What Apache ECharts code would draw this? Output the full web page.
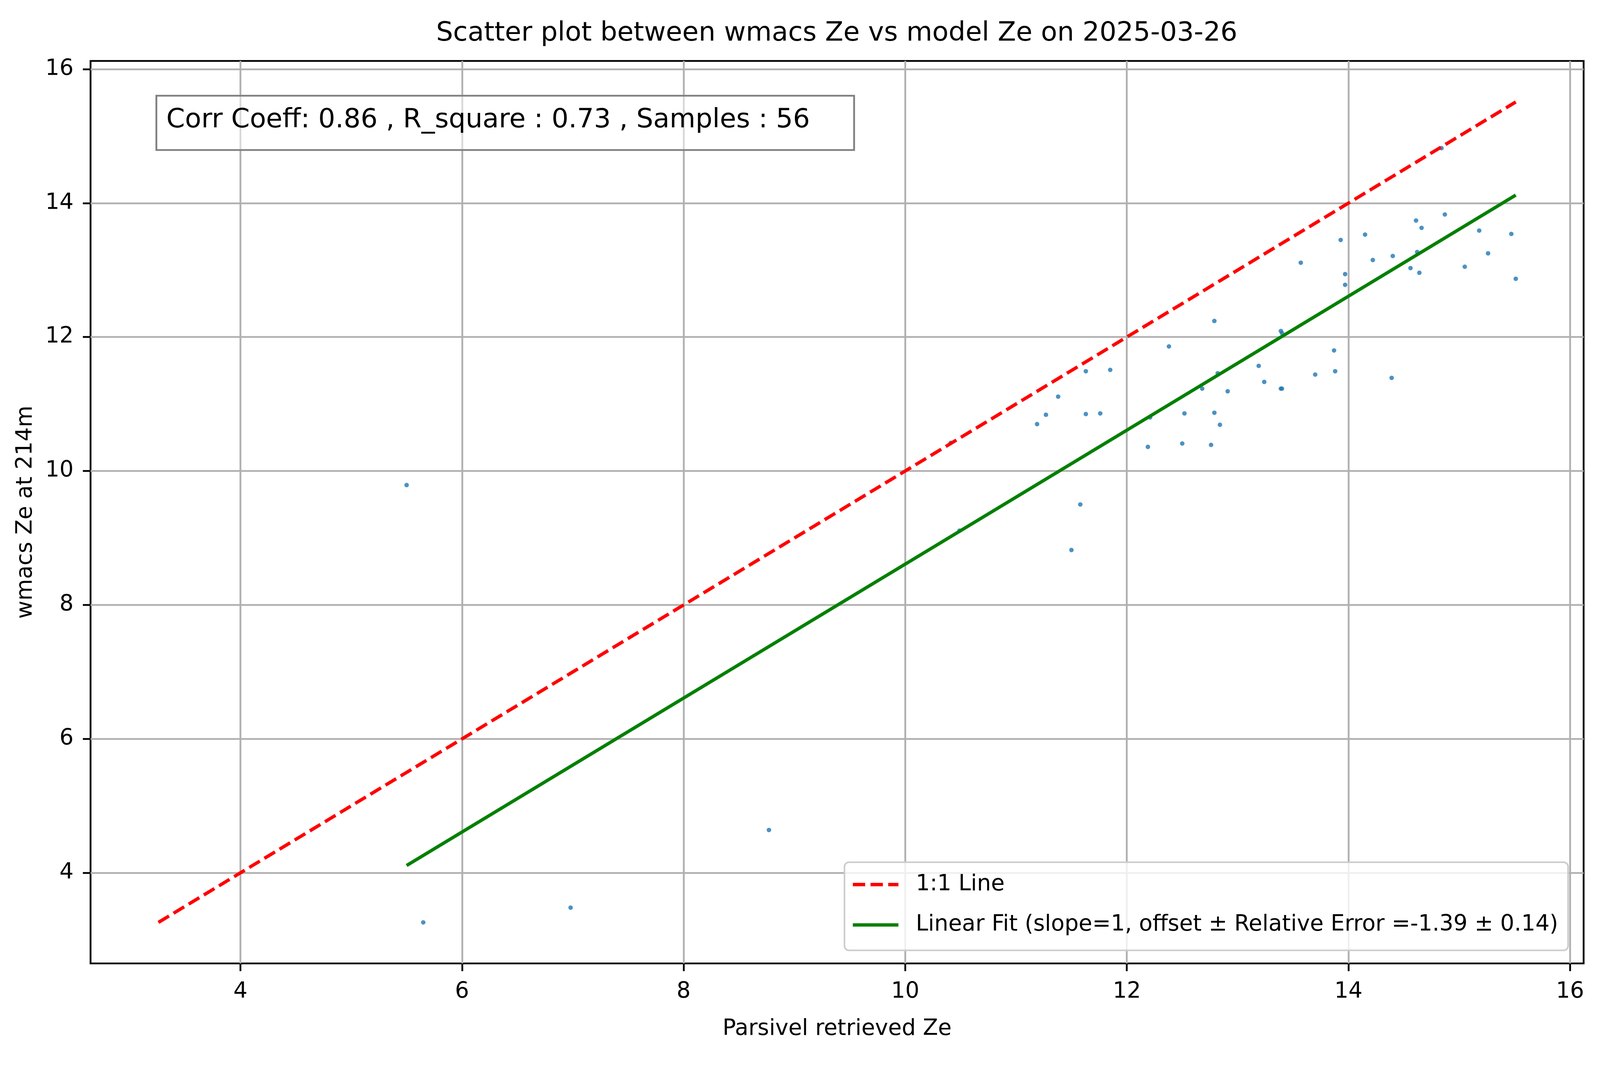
<!DOCTYPE html>
<html>
<head>
    <meta charset="utf-8">
    <title>wmacs Ze vs model Ze</title>
    <style>
        html, body { margin: 0; padding: 0; background: #fff; overflow: hidden; }
        #main { width: 100vw; height: 100vh; }
    </style>
</head>
<body>
<div id="main"></div>
<script src="https://cdn.jsdelivr.net/npm/echarts@6/dist/echarts.min.js"></script>
<script type="text/javascript">
    // Parsivel retrieved Ze (x) and wmacs Ze at 214m (y)
    var parsivelZe = [
        11.19, 11.27, 11.38, 11.63, 11.63, 11.76, 11.85, 11.58, 11.50, 12.21,
        12.19, 12.38, 12.52, 12.50, 12.68, 12.79, 12.79, 12.76, 12.84, 12.82,
        12.91, 13.19, 13.24, 13.39, 13.40, 13.39, 13.40, 13.57, 13.70, 13.87,
        13.88, 13.93, 13.97, 13.97, 14.15, 14.22, 14.39, 14.40, 14.56, 14.61,
        14.62, 14.64, 14.66, 14.87, 15.05, 15.18, 15.26, 15.47, 15.51, 14.84,
        10.41, 10.49, 5.50, 5.65, 6.98, 8.77
    ];
    var wmacsZe = [
        10.70, 10.84, 11.11, 11.49, 10.85, 10.86, 11.51, 9.50, 8.82, 10.80,
        10.36, 11.86, 10.86, 10.41, 11.23, 12.24, 10.87, 10.39, 10.69, 11.46,
        11.19, 11.57, 11.33, 12.09, 12.06, 11.23, 11.23, 13.11, 11.44, 11.80,
        11.49, 13.45, 12.94, 12.78, 13.53, 13.15, 11.39, 13.21, 13.03, 13.74,
        13.27, 12.96, 13.63, 13.83, 13.05, 13.59, 13.25, 13.54, 12.87, 14.82,
        10.42, 9.11, 9.79, 3.26, 3.48, 4.64
    ];

    // end points of the two reference lines
    var oneToOneX = [3.26, 15.51];
    var oneToOneY = [3.26, 15.51];
    var fitX = [5.50, 15.51];
    var fitY = [4.11, 14.12];

    var tickValues = [4, 6, 8, 10, 12, 14, 16];

    var titleText = 'Scatter plot between wmacs Ze vs model Ze on 2025-03-26';
    var statsText = 'Corr Coeff: 0.86 , R_square : 0.73 , Samples : 56';
    var lineName = '1:1 Line';
    var fitName = 'Linear Fit (slope=1, offset \u00b1 Relative Error =-1.39 \u00b1 0.14)';

    function pairs(xs, ys) {
        var out = [];
        for (var i = 0; i < xs.length; i++) out.push([xs[i], ys[i]]);
        return out;
    }

    // layout was measured on a 4983 x 2726 picture; scale it to the real window
    var dom = document.getElementById('main');
    var W = dom.clientWidth, H = dom.clientHeight;
    var sx = W / 4983, sy = H / 2726, s = Math.min(sx, sy);
    function X(v) { return v * sx; }
    function Y(v) { return v * sy; }
    function S(v) { return v * s; }

    var FONT = 'DejaVu Sans';
    var legendFont = S(69);

    function valueAxis(name, nameGap, labelMargin) {
        return {
            type: 'value',
            min: 2.6475,
            max: 16.1225,
            name: name,
            nameLocation: 'middle',
            nameGap: nameGap,
            nameTextStyle: { fontFamily: FONT, fontSize: S(69), color: '#000' },
            axisLine: { show: false },
            axisTick: {
                show: true,
                inside: false,
                length: S(24),
                customValues: tickValues,
                lineStyle: { color: '#000', width: S(5.6) }
            },
            axisLabel: {
                customValues: tickValues,
                margin: labelMargin,
                fontFamily: FONT,
                fontSize: S(69),
                color: '#000'
            },
            splitLine: {
                show: true,
                lineStyle: { color: '#b0b0b0', width: S(5.6) }
            }
        };
    }

    var myChart = echarts.init(dom);
    myChart.setOption({
        animation: false,
        backgroundColor: '#fff',
        grid: {
            left: X(282), top: Y(156), right: X(51), bottom: Y(260),
            show: true,
            borderColor: '#000',
            borderWidth: S(5.6),
            backgroundColor: 'transparent'
        },
        xAxis: valueAxis('Parsivel retrieved Ze', Y(140), Y(45)),
        yAxis: valueAxis('wmacs Ze at 214m', X(167), X(53)),
        legend: {
            data: [
                {
                    name: lineName,
                    icon: 'path://M0,0H38.5V10.4H0Z M55.1,0H93.6V10.4H55.1Z M110.2,0H142V10.4H110.2Z'
                },
                { name: fitName, icon: 'path://M0,0H142V10.4H0Z' }
            ],
            orient: 'vertical',
            left: X(2630),
            top: Y(2207),
            itemWidth: S(142),
            itemHeight: S(10.4),
            itemGap: Y(103) - legendFont,
            padding: [
                Y(2264 - 2207) - legendFont / 2,
                X(31),
                Y(2432 - 2367) - legendFont / 2,
                X(26)
            ],
            backgroundColor: 'rgba(255,255,255,0.8)',
            borderColor: '#cccccc',
            borderWidth: S(5),
            borderRadius: S(14),
            textStyle: {
                fontFamily: FONT,
                fontSize: legendFont,
                color: '#000',
                padding: [0, 0, 0, X(48)]
            }
        },
        graphic: [
            {
                type: 'text',
                x: X(2606),
                y: Y(86),
                style: {
                    text: titleText,
                    fontFamily: FONT,
                    fontSize: S(83),
                    fill: '#000',
                    align: 'center',
                    verticalAlign: 'middle'
                }
            },
            {
                type: 'rect',
                shape: { x: X(487), y: Y(245), width: X(2173), height: Y(139) },
                style: { fill: 'rgba(255,255,255,0.5)', stroke: '#808080', lineWidth: S(5.6) },
                z: 10
            },
            {
                type: 'text',
                x: X(518),
                y: Y(308),
                z: 11,
                style: {
                    text: statsText,
                    fontFamily: FONT,
                    fontSize: S(83),
                    fill: '#000',
                    align: 'left',
                    verticalAlign: 'middle'
                }
            }
        ],
        series: [
            {
                name: 'data',
                type: 'scatter',
                symbol: 'circle',
                symbolSize: S(14),
                itemStyle: { color: '#1f77b4' },
                data: pairs(parsivelZe, wmacsZe)
            },
            {
                name: lineName,
                type: 'line',
                symbol: 'none',
                lineStyle: { color: '#ff0000', width: S(10.4), type: [S(38.5), S(16.6)] },
                itemStyle: { color: '#ff0000' },
                data: pairs(oneToOneX, oneToOneY)
            },
            {
                name: fitName,
                type: 'line',
                symbol: 'none',
                lineStyle: { color: '#008000', width: S(10.4) },
                itemStyle: { color: '#008000' },
                data: pairs(fitX, fitY)
            }
        ]
    });
</script>
</body>
</html>
